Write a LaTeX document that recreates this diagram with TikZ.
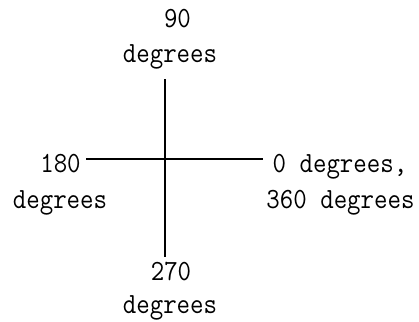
\documentclass[tikz,border=0pt]{standalone}
\usepackage{graphicx}
\newcommand{\tallt}[1]{\scalebox{1}[1.12]{#1}}
\begin{document}
\begin{tikzpicture}[x=0.75pt,y=-0.75pt,
  lbl/.style={anchor=base,inner sep=0pt,font=\fontsize{19.6}{27}\selectfont\ttfamily},
  axis/.style={line width=1.5pt}]
\useasboundingbox (0,0) rectangle (419,322);
% cross
\coordinate (top) at (165,79);
\coordinate (bot) at (165,257);
\coordinate (lft) at (86,159);
\coordinate (rgt) at (263,159);
\draw[axis] (top) -- (bot);
\draw[axis] (lft) -- (rgt);
% labels
\node[lbl] (t1) at (177.5,27) {\tallt{90}};
\node[lbl] (t2) at (170,62) {\tallt{degrees}};
\node[lbl] (l1) at (60.5,172) {\tallt{180}};
\node[lbl] (l2) at (60,208) {\tallt{degrees}};
\node[lbl] (r1) at (340,172) {\tallt{0 degrees,}};
\node[lbl] (r2) at (340.5,208) {\tallt{360 degrees}};
\node[lbl] (b1) at (171,280) {\tallt{270}};
\node[lbl] (b2) at (170,313) {\tallt{degrees}};
\end{tikzpicture}
\end{document}
